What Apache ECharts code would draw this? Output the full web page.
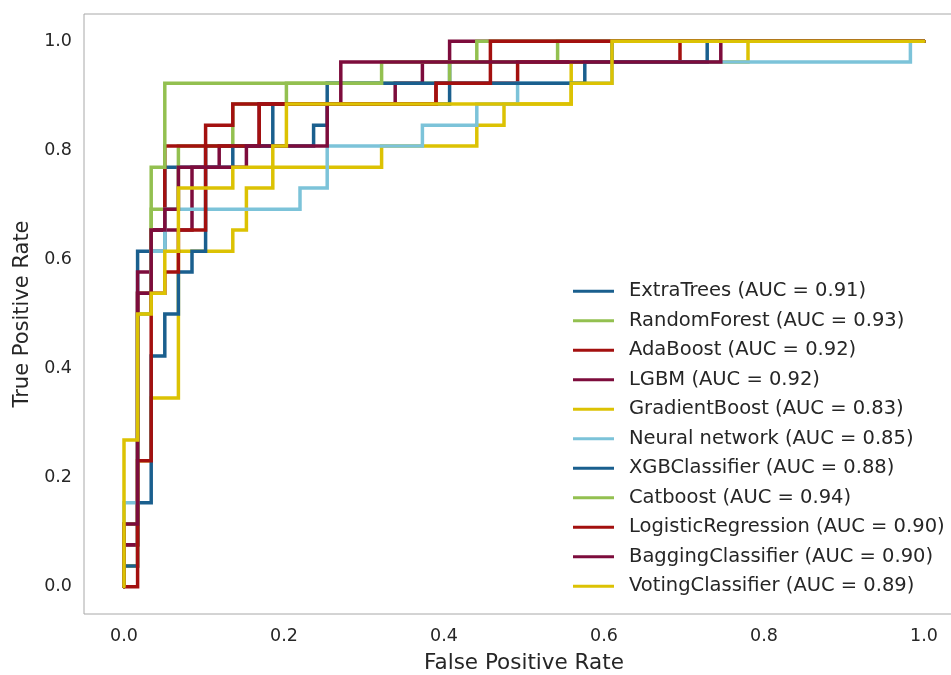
<!DOCTYPE html>
<html>
<head>
<meta charset="utf-8">
<script src="https://cdn.jsdelivr.net/npm/echarts@6/dist/echarts.min.js"></script>
<style>
  html, body { margin: 0; padding: 0; background: #fff; overflow: hidden; }
  #roc { width: 951px; height: 675px; }
</style>
</head>
<body>
<div id="roc"></div>
<script>
// model names and scores as shown in the legend
var models = ['ExtraTrees', 'RandomForest', 'AdaBoost', 'LGBM', 'GradientBoost', 'Neural network',
              'XGBClassifier', 'Catboost', 'LogisticRegression', 'BaggingClassifier', 'VotingClassifier'];
var aucs = ['0.91', '0.93', '0.92', '0.92', '0.83', '0.85', '0.88', '0.94', '0.90', '0.90', '0.89'];
var colors = ['#1a5f8e', '#93c050', '#a3100f', '#7d0c3c', '#dcc203', '#7cc3d9',
              '#1a5f8e', '#93c050', '#a3100f', '#7d0c3c', '#dcc203'];

// roc corner points
var extraTreesFpr = [0, 0, .017, .017, .051, .051, .102, .102, .186, .186, .407, .407, .610, .610, 1];
var extraTreesTpr = [0, .077, .077, .615, .615, .769, .769, .808, .808, .885, .885, .962, .962, 1, 1];

var randomForestFpr = [0, 0, .017, .017, .034, .034, .068, .068, .136, .136, .203, .203, .407, .407, .542, .542, 1];
var randomForestTpr = [0, .115, .115, .538, .538, .692, .692, .808, .808, .885, .885, .923, .923, .962, .962, 1, 1];

var adaBoostFpr = [0, 0, .017, .017, .034, .034, .051, .051, .102, .102, .136, .136, .390, .390, .492, .492, .695, .695, 1];
var adaBoostTpr = [0, .077, .077, .538, .538, .654, .654, .808, .808, .846, .846, .885, .885, .923, .923, .962, .962, 1, 1];

var lgbmFpr = [0, 0, .017, .017, .034, .034, .085, .085, .119, .119, .169, .169, .339, .339, .373, .373, .407, .407, 1];
var lgbmTpr = [0, .077, .077, .577, .577, .654, .654, .769, .769, .808, .808, .885, .885, .923, .923, .962, .962, 1, 1];

var gradBoostFpr = [0, 0, .017, .017, .034, .034, .068, .068, .136, .136, .153, .153, .186, .186, .322, .322, .441, .441, .475, .475, .559, .559, .780, .780, 1];
var gradBoostTpr = [0, .038, .038, .231, .231, .346, .346, .615, .615, .654, .654, .731, .731, .769, .769, .808, .808, .846, .846, .885, .885, .962, .962, 1, 1];

var neuralFpr = [0, 0, .017, .017, .034, .034, .051, .051, .220, .220, .254, .254, .373, .373, .441, .441, .492, .492, .610, .610, .983, .983, 1];
var neuralTpr = [0, .154, .154, .500, .500, .615, .615, .692, .692, .731, .731, .808, .808, .846, .846, .885, .885, .923, .923, .962, .962, 1, 1];

var xgbFpr = [0, 0, .017, .017, .034, .034, .051, .051, .068, .068, .085, .085, .102, .102, .136, .136, .237, .237, .254, .254, .576, .576, .729, .729, 1];
var xgbTpr = [0, .038, .038, .154, .154, .423, .423, .500, .500, .577, .577, .615, .615, .769, .769, .808, .808, .846, .846, .923, .923, .962, .962, 1, 1];

var catboostFpr = [0, 0, .017, .017, .034, .034, .051, .051, .322, .322, .441, .441, 1];
var catboostTpr = [0, .115, .115, .500, .500, .769, .769, .923, .923, .962, .962, 1, 1];

var logRegFpr = [0, .017, .017, .034, .034, .051, .051, .068, .068, .102, .102, .169, .169, .390, .390, .458, .458, 1];
var logRegTpr = [0, 0, .231, .231, .538, .538, .577, .577, .654, .654, .808, .808, .885, .885, .923, .923, 1, 1];

var baggingFpr = [0, 0, .017, .017, .034, .034, .051, .051, .068, .068, .153, .153, .254, .254, .271, .271, .746, .746, 1];
var baggingTpr = [0, .115, .115, .538, .538, .654, .654, .692, .692, .769, .769, .808, .808, .885, .885, .962, .962, 1, 1];

var votingFpr = [0, 0, .017, .017, .034, .034, .051, .051, .068, .068, .136, .136, .186, .186, .203, .203, .559, .559, .610, .610, 1];
var votingTpr = [0, .269, .269, .500, .500, .538, .538, .615, .615, .731, .731, .769, .769, .808, .808, .885, .885, .923, .923, 1, 1];

var tickValues = [0, 0.2, 0.4, 0.6, 0.8, 1.0];

var curves = [
    [extraTreesFpr, extraTreesTpr], [randomForestFpr, randomForestTpr], [adaBoostFpr, adaBoostTpr],
    [lgbmFpr, lgbmTpr], [gradBoostFpr, gradBoostTpr], [neuralFpr, neuralTpr], [xgbFpr, xgbTpr],
    [catboostFpr, catboostTpr], [logRegFpr, logRegTpr], [baggingFpr, baggingTpr], [votingFpr, votingTpr]
];

var font = 'DejaVu Sans';
var series = curves.map(function (c, i) {
    return {
        name: models[i] + ' (AUC = ' + aucs[i] + ')',
        type: 'line',
        showSymbol: false,
        animation: false,
        itemStyle: { color: colors[i] },
        lineStyle: { color: colors[i], width: 3.5, cap: 'round', join: 'miter' },
        data: c[0].map(function (x, k) { return [x, c[1][k]]; })
    };
});

// plot box runs past the right edge of the window, like the original
var myChart = echarts.init(document.getElementById('roc'));
var option = {
    backgroundColor: '#fff',
    animation: false,
    grid: {
        left: 84, top: 14, width: 880, height: 600,
        outerBoundsMode: 'none',
        show: true, borderColor: '#a8a8a8', borderWidth: 1
    },
    legend: {
        orient: 'vertical',
        left: 568, top: 275,
        icon: 'rect',
        itemWidth: 41, itemHeight: 3,
        itemGap: 7,
        textStyle: { fontFamily: font, fontSize: 19.5, color: '#262626', padding: [0, 0, 0, 10], lineHeight: 22.5 },
        data: series.map(function (s) { return s.name; })
    },
    xAxis: {
        type: 'value', min: -0.05, max: 1.05,
        name: 'False Positive Rate', nameLocation: 'middle', nameGap: 38,
        nameTextStyle: { fontFamily: font, fontSize: 21.5, color: '#262626' },
        axisLine: { show: false }, axisTick: { show: false }, splitLine: { show: false },
        axisLabel: {
            customValues: tickValues, margin: 13,
            fontFamily: font, fontSize: 17.5, color: '#262626',
            formatter: function (v) { return v.toFixed(1); }
        }
    },
    yAxis: {
        type: 'value', min: -0.05, max: 1.05,
        name: 'True Positive Rate', nameLocation: 'middle', nameGap: 48,
        nameTextStyle: { fontFamily: font, fontSize: 21, color: '#262626' },
        axisLine: { show: false }, axisTick: { show: false }, splitLine: { show: false },
        axisLabel: {
            customValues: tickValues, margin: 12,
            fontFamily: font, fontSize: 17.5, color: '#262626',
            formatter: function (v) { return v.toFixed(1); }
        }
    },
    series: series
};
myChart.setOption(option);
</script>
</body>
</html>
